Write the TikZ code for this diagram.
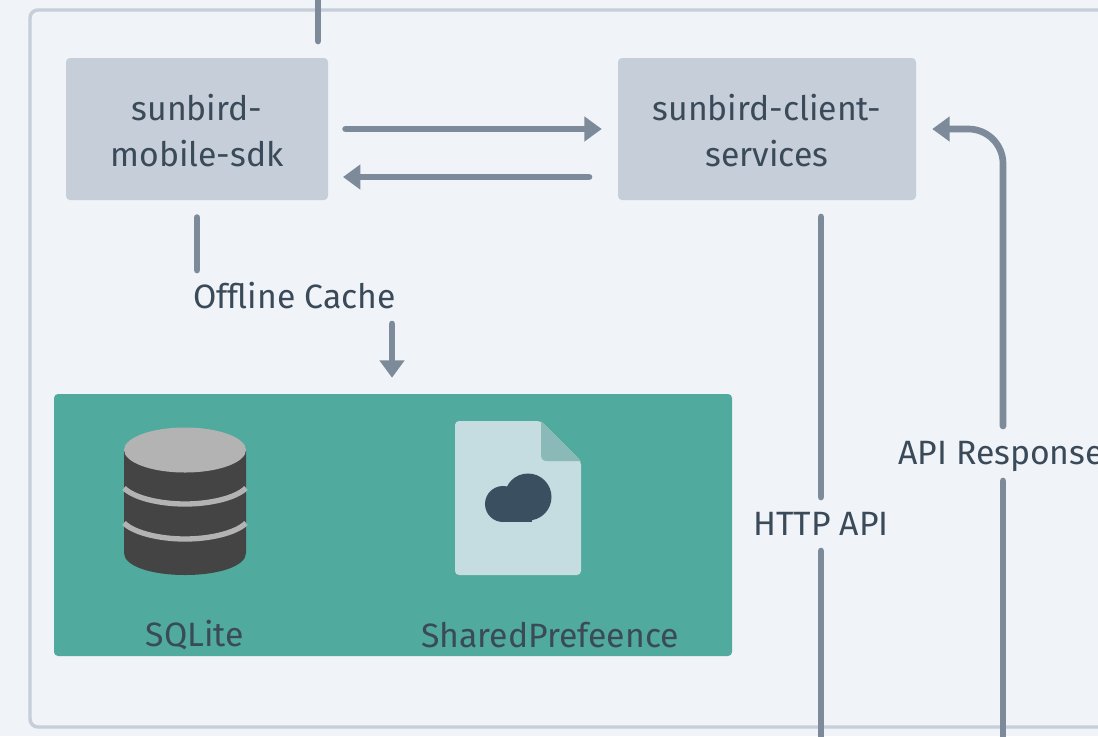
\documentclass[tikz,border=0pt]{standalone}
\usepackage{fontspec}
\setmainfont{Fira Sans}
\usetikzlibrary{arrows.meta}

\definecolor{pagebg}{HTML}{F0F3F7}
\definecolor{framecol}{HTML}{C5CED9}
\definecolor{boxcol}{HTML}{C5CED9}
\definecolor{linkcol}{HTML}{7D8A99}
\definecolor{textcol}{HTML}{3A4A59}
\definecolor{tealcol}{HTML}{50AA9D}
\definecolor{dbdark}{HTML}{444444}
\definecolor{dblight}{HTML}{B3B3B3}
\definecolor{filecol}{HTML}{C5DDE0}
\definecolor{foldcol}{HTML}{8BB9B7}
\definecolor{cloudcol}{HTML}{3A4F60}

\newcommand{\toppad}{\rule{0pt}{22pt}}

\tikzset{
  service/.style={fill=boxcol,rounded corners=3,minimum width=262*0.75pt,minimum height=142*0.75pt,align=center,inner sep=0pt,text=textcol,font=\fontsize{25.3}{35.2}\selectfont},
  label/.style={inner sep=0pt,text=textcol,font=\fontsize{25.3}{28}\selectfont},
  link/.style={draw=linkcol,line width=5pt,line cap=round},
  linkarrow/.style={link,-{Triangle[length=13pt,width=18pt]}},
}

\begin{document}
\begin{tikzpicture}[x=0.75pt,y=0.75pt,yscale=-1,xscale=1]
\useasboundingbox (0,0) rectangle (1098,736);
\clip (0,0) rectangle (1098,736);
\fill [pagebg] (0,0) rectangle (1098,736);

%Outer frame
\draw [framecol,line width=2.6pt,rounded corners=6] (1200,10) -- (30,10) -- (30,727) -- (1200,727);

%Service boxes
\node [service] (sdk) at (197,129) {\toppad sunbird-\\mobile-sdk};
\node [service,minimum width=298*0.75pt] (services) at (767,129) {\toppad sunbird-client-\\services};

%Storage panel
\node [fill=tealcol,rounded corners=3,minimum width=678*0.75pt,minimum height=262*0.75pt,inner sep=0pt] (storage) at (393,525) {};

%Database icon
\fill [dbdark] (124,450) -- (124,553) .. controls (124,566) and (151,575) .. (185,575) .. controls (219,575) and (246,566) .. (246,553) -- (246,450) -- cycle;
\draw [dblight,line width=4pt] (124,488) .. controls (134,498) and (160,504) .. (185,504) .. controls (210,504) and (236,498) .. (246,488);
\draw [dblight,line width=4pt] (124,523) .. controls (134,533) and (160,539) .. (185,539) .. controls (210,539) and (236,533) .. (246,523);
\fill [dblight] (185,450) ellipse (61 and 22.5);

%File icon
\fill [filecol,rounded corners=3] (455,421) -- (541,421) -- (581,461) -- (581,575) -- (455,575) -- cycle;
\fill [foldcol] (541,421) -- (581,461) -- (547,461) .. controls (543,461) and (541,459) .. (541,455) -- cycle;
\fill [cloudcol] (503,504) circle (18);
\fill [cloudcol] (528,497) circle (23.5);
\fill [cloudcol] (503,505) rectangle (532,522);

% Text Node
\node [label] (sqlite) at (195,635) {SQLite};
\node [label] (prefs) at (550,635) {SharedPrefeence};
\node [label] (offline) at (294.5,296) {Offline Cache};
\node [label] (http) at (821,524) {HTTP API};
\node [label,anchor=west] (response) at (898,456) {API Response};

%Free ends of the connectors
\coordinate (top) at (318,-10);
\coordinate (sdktop) at (318,41);
\coordinate (sdkin) at (343,177);
\coordinate (servicesout) at (589,177);
\coordinate (sdkout) at (197,270);
\coordinate (cachein) at (392,324);
\coordinate (servicesdown) at (821,217);
\coordinate (httptop) at (821,497);
\coordinate (httpbottom) at (821,551);
\coordinate (httpend) at (821,750);
\coordinate (responsetop) at (1003,426);
\coordinate (responsebottom) at (1003,481);
\coordinate (responseend) at (1003,750);
\coordinate (elbow) at (1003,129);

%Connectors
\draw [link] (top) -- (sdktop);
\draw [linkarrow,shorten <=13pt,shorten >=12pt] (sdk.east) -- (services.west);
\draw [linkarrow] (servicesout) -- (sdkin);
\draw [link,shorten <=13pt] (sdk.south) -- (sdkout);
\draw [linkarrow,shorten >=12pt] (cachein) -- (cachein |- storage.north);
\draw [link] (servicesdown) -- (httptop);
\draw [link] (httpbottom) -- (httpend);
\draw [linkarrow,rounded corners=26,shorten >=12pt] (responsetop) -- (elbow) -- (services.east);
\draw [link] (responsebottom) -- (responseend);

\end{tikzpicture}
\end{document}
